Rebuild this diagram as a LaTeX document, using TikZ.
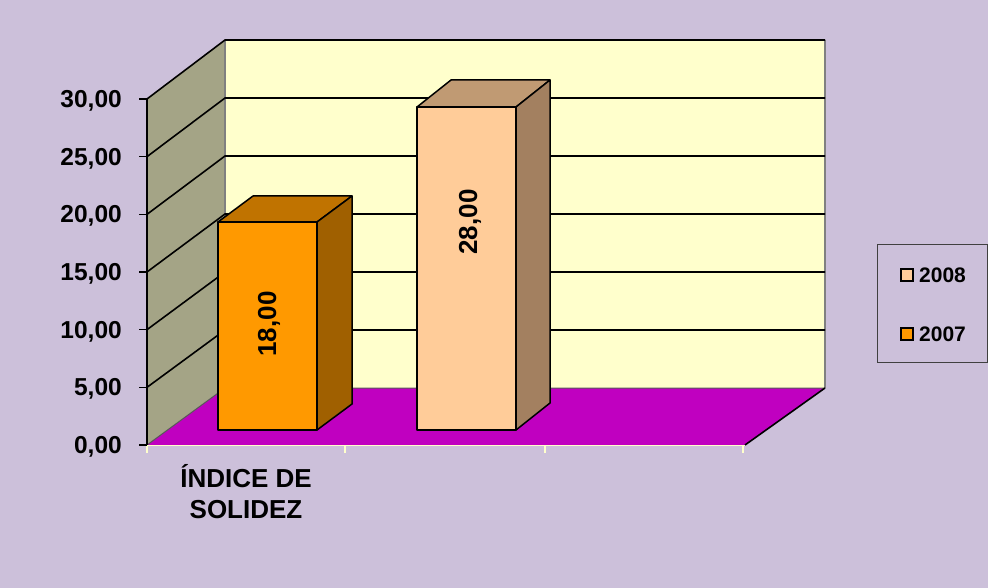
\documentclass[tikz,border=0pt]{standalone}
\usepackage{fontspec}
\setmainfont{Liberation Sans}

\definecolor{bgcol}{RGB}{204,192,218}
\definecolor{wallcol}{RGB}{255,255,204}
\definecolor{sidecol}{RGB}{164,164,134}
\definecolor{floorcol}{RGB}{192,0,192}
\definecolor{sevenfront}{RGB}{255,153,0}
\definecolor{seventop}{RGB}{192,115,0}
\definecolor{sevenside}{RGB}{160,96,0}
\definecolor{eightfront}{RGB}{255,204,153}
\definecolor{eighttop}{RGB}{192,154,115}
\definecolor{eightside}{RGB}{163,128,96}

\begin{document}
\begin{tikzpicture}[x=1pt,y=-1pt,
    axislabel/.style={anchor=east,inner sep=0,font=\fontsize{24.5}{26}\selectfont\bfseries},
    barlabel/.style={rotate=90,inner sep=0,font=\fontsize{26}{28}\selectfont\bfseries},
    legendtext/.style={anchor=west,inner sep=0,font=\fontsize{21}{24}\selectfont\bfseries},
    barline/.style={line width=1.5pt,line join=round}]
        \fill[bgcol] (0,0) rectangle (988,588);
        % walls and floor
        \fill[wallcol] (225,40) rectangle (825,388);
        \fill[sidecol] (147,99)--(225,40)--(225,388)--(147,445)--cycle;
        \fill[floorcol] (147,445)--(745,445)--(825,388)--(225,388)--cycle;
        \draw[gray,line width=1.8pt] (825,40)--(825,388);
        \draw[gray,line width=1.5pt] (225,40)--(225,388);
        \draw[gray!70!black,line width=1pt] (147,445)--(225,388)--(825,388);
        \foreach \k in {1,...,6}
            \draw[line width=1.6pt] (147,{445-57.67*\k})--(225,{388-58*\k})--(825,{388-58*\k});
        \draw[line width=1.6pt] (745,445)--(825,388);
        \draw[wallcol] (147,445)--(745,445);
        \foreach \x in {147,345,545,743}
            \draw[wallcol,line width=1.5pt] (\x,446)--(\x,453);
        % axis
        \draw[line width=1.5pt] (147,99)--(147,445);
        \foreach \k/\v in {0/{0,00},1/{5,00},2/{10,00},3/{15,00},4/{20,00},5/{25,00},6/{30,00}}{
            \draw[line width=1.2pt] (139,{445-57.67*\k})--(147,{445-57.67*\k});
            \node[axislabel] (tick\k) at (122,{447-57.67*\k}){\v};
        }
        % bar 2007
        \filldraw[barline,fill=sevenfront] (218,222) rectangle (317,430);
        \filldraw[barline,fill=seventop] (218,222)--(253,196)--(352,196)--(317,222)--cycle;
        \filldraw[barline,fill=sevenside] (317,222)--(352,196)--(352,404)--(317,430)--cycle;
        \node[barlabel] (val2007) at (269,324){18,00};
        % bar 2008
        \filldraw[barline,fill=eightfront] (417,107) rectangle (516,430);
        \filldraw[barline,fill=eighttop] (417,107)--(451,80)--(550,80)--(516,107)--cycle;
        \filldraw[barline,fill=eightside] (516,107)--(550,80)--(550,403)--(516,430)--cycle;
        \node[barlabel] (val2008) at (470,222){28,00};
        % category
        \node[align=center,font=\fontsize{26}{31}\selectfont\bfseries] (cat) at (246,492){ÍNDICE DE\\SOLIDEZ};
        % legend
        \draw[darkgray,line width=1pt] (877,245) rectangle (987,362);
        \filldraw[line width=1.5pt,fill=eightfront] (901,269) rectangle (913,281);
        \node[legendtext] (leg2008) at (919,275){2008};
        \filldraw[line width=1.5pt,fill=sevenfront] (901,328) rectangle (913,340);
        \node[legendtext] (leg2007) at (919,334){2007};
    \end{tikzpicture}
\end{document}
